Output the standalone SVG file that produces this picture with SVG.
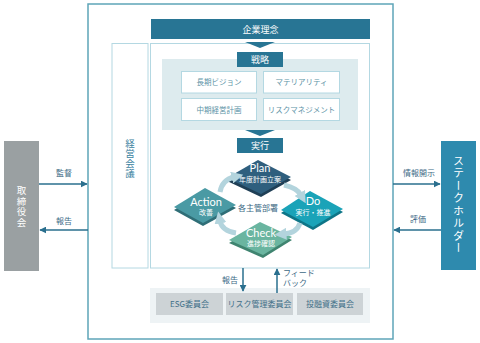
<svg xmlns="http://www.w3.org/2000/svg" width="480" height="343" viewBox="0 0 480 343">
<defs>
<style>
.jp{font-family:"Noto Sans CJK JP","Noto Sans",sans-serif;}
.lat{font-family:"Lato","Noto Sans",sans-serif;}
.frame{fill:#fff;stroke:#5ea5b8;stroke-width:1.5;}
.panel{fill:#fff;stroke:#b4d8e2;stroke-width:1;}
.hdr{fill:#287594;}
.hdrt{fill:#fff;font-size:9px;text-anchor:middle;}
.sbox{fill:#fff;stroke:#b4d8e2;stroke-width:1;}
.sboxt{fill:#5d93a6;font-size:7.5px;text-anchor:middle;}
.cbox{fill:#cdd3d6;}
.cboxt{fill:#3f6f88;font-size:8px;text-anchor:middle;}
.lbl{fill:#3d6a85;font-size:8px;text-anchor:middle;}
.conn{fill:none;stroke:#2a6f8e;stroke-width:1.5;}
.curve{fill:none;stroke:#b3d4dd;stroke-width:5;}
.dt1{fill:#fff;font-size:11px;text-anchor:middle;}
.dt2{fill:#fff;font-size:7px;text-anchor:middle;}
.vert{writing-mode:vertical-rl;text-anchor:middle;}
</style>
<marker id="ah" viewBox="0 0 10 10" refX="9" refY="5" markerWidth="7" markerHeight="7" markerUnits="userSpaceOnUse" orient="auto">
<path d="M0,0 L10,5 L0,10 z" fill="#2a6f8e"/>
</marker>
<marker id="bh" viewBox="0 0 10 10" refX="2" refY="5" markerWidth="12" markerHeight="12" markerUnits="userSpaceOnUse" orient="auto">
<path d="M0,0 L10,5 L0,10 z" fill="#b3d4dd"/>
</marker>
</defs>

<g id="frame">
<rect class="frame" x="88" y="4" width="305" height="335"/>
</g>

<g id="board">
<rect x="4" y="141" width="35" height="130" fill="#9aa0a2"/>
<text class="jp vert" x="21.5" y="207" fill="#fff" font-size="9.5" letter-spacing="1">取締役会</text>
</g>

<g id="stakeholder">
<rect x="441" y="141" width="35" height="129" fill="#2e8aae"/>
<text class="jp vert" x="458.5" y="205" fill="#fff" font-size="11" letter-spacing="1.5">ステークホルダー</text>
</g>

<g id="mgmt-meeting">
<rect class="panel" x="112" y="43.5" width="36" height="224.5"/>
<text class="jp vert" x="130" y="159" fill="#3a7fa0" font-size="9.5" letter-spacing="0.5">経営会議</text>
</g>

<g id="main-panel">
<rect class="panel" x="150.5" y="43.5" width="219" height="224.5"/>
</g>

<g id="philosophy">
<rect class="hdr" x="151" y="19" width="219" height="20"/>
<text class="jp hdrt" x="260.5" y="32.5">企業理念</text>
<polygon points="245,42 275,42 260,48" fill="#287594"/>
</g>

<g id="strategy">
<rect x="162" y="59" width="196" height="71" fill="#ddebee"/>
<rect class="hdr" x="237" y="52" width="46" height="15"/>
<text class="jp hdrt" x="260" y="62.5" font-size="8">戦略</text>
<g id="s1"><rect class="sbox" x="181.5" y="71.5" width="75" height="21.5"/><text class="jp sboxt" x="219" y="85">長期ビジョン</text></g>
<g id="s2"><rect class="sbox" x="263.5" y="71.5" width="76" height="21.5"/><text class="jp sboxt" x="301.5" y="85">マテリアリティ</text></g>
<g id="s3"><rect class="sbox" x="181.5" y="98.5" width="75" height="22"/><text class="jp sboxt" x="219" y="112.5">中期経営計画</text></g>
<g id="s4"><rect class="sbox" x="263.5" y="98.5" width="76" height="22"/><text class="jp sboxt" x="301.5" y="112.5">リスクマネジメント</text></g>
<polygon points="245,130 275,130 260,136" fill="#287594"/>
</g>

<g id="execution">
<rect class="hdr" x="237" y="138" width="46" height="15"/>
<text class="jp hdrt" x="260" y="148.5" font-size="8">実行</text>
</g>

<g id="depts">
<text class="jp lbl" x="258" y="211" fill="#3d5a70" font-size="7.5">各主管部署</text>
</g>

<g id="plan">
<polygon points="258,163 291,180 261,197 227,181" fill="#1f3f56"/>
<polygon points="258,160 291,177 261,194 227,178" fill="#2f5f7e"/>
<text class="lat dt1" x="260" y="172">Plan</text>
<text class="jp dt2" x="260" y="182">年度計画立案</text>
</g>

<g id="do">
<polygon points="310,194 343,212 313,230 281,213" fill="#0e7587"/>
<polygon points="310,191 343,209 313,227 281,210" fill="#1aa3b8"/>
<text class="lat dt1" x="313" y="205">Do</text>
<text class="jp dt2" x="313" y="215">実行・推進</text>
</g>

<g id="action">
<polygon points="205,191 236,208 203,226 174,210" fill="#2f6e77"/>
<polygon points="205,188 236,205 203,223 174,207" fill="#4a9aa4"/>
<text class="lat dt1" x="206" y="206">Action</text>
<text class="jp dt2" x="206" y="215">改善</text>
</g>

<g id="check">
<polygon points="260,225 292,240 263,258 229,243" fill="#3f8470"/>
<polygon points="260,222 292,237 263,255 229,240" fill="#6ab5a0"/>
<text class="lat dt1" x="261" y="237">Check</text>
<text class="jp dt2" x="261" y="246">進捗確認</text>
</g>

<g id="committees">
<rect x="150" y="288" width="220" height="35" fill="#eef3f5"/>
<g id="c1"><rect class="cbox" x="156" y="293" width="67" height="22"/><text class="jp cboxt" x="189.5" y="307">ESG委員会</text></g>
<g id="c2"><rect class="cbox" x="226" y="293" width="67" height="22"/><text class="jp cboxt" x="259.5" y="307">リスク管理委員会</text></g>
<g id="c3"><rect class="cbox" x="297" y="293" width="66" height="22"/><text class="jp cboxt" x="330" y="307">投融資委員会</text></g>
</g>

<g id="connectors">
<path class="curve" d="M220,192 Q222,180 234,177" marker-end="url(#bh)"/>
<path class="curve" d="M284,185 Q297,188 301,195" marker-end="url(#bh)"/>
<path class="curve" d="M300,223 Q297,233 284,234" marker-end="url(#bh)"/>
<path class="curve" d="M236,233 Q222,231 220,221" marker-end="url(#bh)"/>

<path class="conn" d="M39,184 H87" marker-end="url(#ah)"/>
<path class="conn" d="M88,230 H40" marker-end="url(#ah)"/>
<path class="conn" d="M393,184 H440" marker-end="url(#ah)"/>
<path class="conn" d="M441,230 H394" marker-end="url(#ah)"/>
<path class="conn" d="M243,268 V291" marker-end="url(#ah)"/>
<path class="conn" d="M277,293 V269" marker-end="url(#ah)"/>

<text class="jp lbl" x="64" y="176">監督</text>
<text class="jp lbl" x="64" y="224">報告</text>
<text class="jp lbl" x="419" y="176">情報開示</text>
<text class="jp lbl" x="418" y="222">評価</text>
<text class="jp lbl" x="238" y="283" style="text-anchor:end" font-size="7.5">報告</text>
<text class="jp lbl" x="283" y="276" style="text-anchor:start" font-size="7">フィード</text>
<text class="jp lbl" x="283" y="286" style="text-anchor:start" font-size="7">バック</text>
</g>
</svg>
